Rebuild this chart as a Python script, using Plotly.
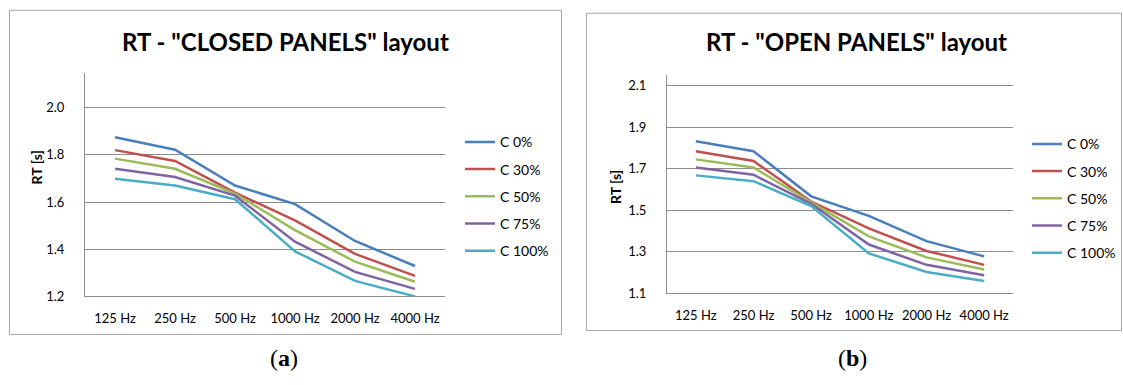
import plotly.graph_objects as go

W, H = 1123, 385

categories = ["125 Hz", "250 Hz", "500 Hz", "1000 Hz", "2000 Hz", "4000 Hz"]
series_names = ["C 0%", "C 30%", "C 50%", "C 75%", "C 100%"]
colors = ["#4A7EBB", "#C0504D", "#9BBB59", "#8064A2", "#4BACC6"]

closed_c0 = [1.875, 1.822, 1.670, 1.591, 1.435, 1.329]
closed_c30 = [1.820, 1.774, 1.640, 1.522, 1.380, 1.287]
closed_c50 = [1.784, 1.741, 1.636, 1.481, 1.347, 1.262]
closed_c75 = [1.741, 1.706, 1.627, 1.432, 1.304, 1.232]
closed_c100 = [1.699, 1.670, 1.612, 1.391, 1.266, 1.200]

open_c0 = [1.831, 1.783, 1.566, 1.472, 1.350, 1.277]
open_c30 = [1.783, 1.736, 1.541, 1.412, 1.303, 1.236]
open_c50 = [1.744, 1.705, 1.537, 1.373, 1.272, 1.214]
open_c75 = [1.705, 1.670, 1.530, 1.334, 1.236, 1.186]
open_c100 = [1.667, 1.639, 1.519, 1.291, 1.202, 1.158]

closed_ticks = [1.2, 1.4, 1.6, 1.8, 2.0]
open_ticks = [1.1, 1.3, 1.5, 1.7, 1.9, 2.1]

closed_series = [closed_c0, closed_c30, closed_c50, closed_c75, closed_c100]
open_series = [open_c0, open_c30, open_c50, open_c75, open_c100]

FONT = "Lato"
GRID = "#8C8C8C"

fig = go.Figure()

for i, (name, vals) in enumerate(zip(series_names, closed_series)):
    fig.add_trace(go.Scatter(x=categories, y=vals, mode="lines", name=name,
                             line=dict(color=colors[i], width=2.5),
                             xaxis="x", yaxis="y", legend="legend",
                             legendgroup="a%d" % i))
for i, (name, vals) in enumerate(zip(series_names, open_series)):
    fig.add_trace(go.Scatter(x=categories, y=vals, mode="lines", name=name,
                             line=dict(color=colors[i], width=2.5),
                             xaxis="x2", yaxis="y2", legend="legend2",
                             legendgroup="b%d" % i))

def px_x(p):
    return p / W

def px_y(p):
    return 1 - p / H

xcommon = dict(type="category", range=[-0.5, 5.5], showgrid=False, showline=True,
               linecolor=GRID, linewidth=1, ticks="", ticklabelstandoff=10,
               tickfont=dict(family=FONT, size=13, color="#000000"), fixedrange=True)
ycommon = dict(showgrid=True, gridcolor=GRID, gridwidth=1, showline=True,
               linecolor=GRID, linewidth=1, ticks="", zeroline=False,
               ticklabelstandoff=17,
               tickfont=dict(family=FONT, size=13, color="#000000"), fixedrange=True)

legend_common = dict(font=dict(family=FONT, size=14, color="#000000"),
                     bgcolor="rgba(0,0,0,0)", tracegroupgap=6,
                     itemwidth=30, xanchor="left", yanchor="top",
                     traceorder="grouped")

fig.update_layout(
    width=W, height=H,
    margin=dict(l=0, r=0, t=0, b=0),
    paper_bgcolor="white", plot_bgcolor="white",
    xaxis=dict(domain=[px_x(85), px_x(445)], anchor="y", **xcommon),
    yaxis=dict(domain=[px_y(302.7), px_y(75)], anchor="x",
               range=[1.2, 2.145], tickvals=closed_ticks,
               ticktext=["%.1f" % t for t in closed_ticks], **ycommon),
    xaxis2=dict(domain=[px_x(667), px_x(1013)], anchor="y2", **xcommon),
    yaxis2=dict(domain=[px_y(299.3), px_y(76.7)], anchor="x2",
                range=[1.1, 2.15], tickvals=open_ticks,
                ticktext=["%.1f" % t for t in open_ticks], **ycommon),
    legend=dict(x=px_x(460), y=px_y(129), **legend_common),
    legend2=dict(x=px_x(1027), y=px_y(131), **legend_common),
    showlegend=True,
)

# chart frames
fig.add_shape(type="rect", xref="paper", yref="paper",
              x0=px_x(9.5), x1=px_x(561.5), y0=px_y(341.5), y1=px_y(10.5),
              line=dict(color="#A6A6A6", width=1), layer="below")
fig.add_shape(type="rect", xref="paper", yref="paper",
              x0=px_x(586.5), x1=px_x(1121.5), y0=px_y(337.5), y1=px_y(13.5),
              line=dict(color="#A6A6A6", width=1), layer="below")

annotations = [
    dict(text='<b>RT - "CLOSED PANELS" layout</b>', x=px_x(285), y=px_y(42),
         font=dict(family=FONT, size=24, color="#000000")),
    dict(text='<b>RT - "OPEN PANELS" layout</b>', x=px_x(856), y=px_y(42),
         font=dict(family=FONT, size=24, color="#000000")),
    dict(text="<b>RT [s]</b>", x=px_x(36), y=px_y(171), textangle=-90,
         font=dict(family=FONT, size=14, color="#000000")),
    dict(text="<b>RT [s]</b>", x=px_x(615), y=px_y(191), textangle=-90,
         font=dict(family=FONT, size=14, color="#000000")),
    dict(text="(<b>a</b>)", x=px_x(284), y=px_y(366),
         font=dict(family="Liberation Serif", size=24, color="#000000")),
    dict(text="(<b>b</b>)", x=px_x(852), y=px_y(366),
         font=dict(family="Liberation Serif", size=24, color="#000000")),
]
for a in annotations:
    a.update(xref="paper", yref="paper", showarrow=False, xanchor="center", yanchor="middle")
fig.update_layout(annotations=annotations)

fig.write_html("out.html", config={"displayModeBar": False, "staticPlot": True},
               post_script="document.body.style.margin='0';document.body.style.overflow='hidden';")
